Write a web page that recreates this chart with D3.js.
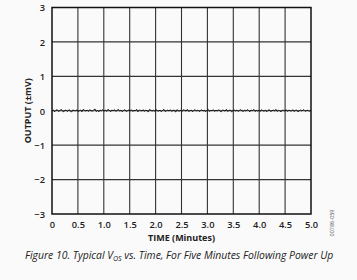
<!DOCTYPE html>
<html><head><meta charset="utf-8">
<script src="https://cdn.jsdelivr.net/npm/d3@7"></script>
<style>
html,body{margin:0;padding:0;background:#fafafa;}
svg{display:block;}
</style></head>
<body>
<svg id="c" width="357" height="280"></svg>
<script>
const xTicks = [0,0.5,1.0,1.5,2.0,2.5,3.0,3.5,4.0,4.5,5.0];
const yTicks = [-3,-2,-1,0,1,2,3];
const xLabel = "TIME (Minutes)";
const yLabel = "OUTPUT (±mV)";
const figId = "00786-059";
// Output trace (mV), read as an evenly sampled trace over 0–5 minutes
const outputMv = [
 -0.01,0.02,-0.03,0.01,0.03,-0.02,0.00,0.04,-0.01,-0.03,0.02,0.01,-0.02,0.03,0.00,-0.04,0.02,0.01,-0.01,0.03,
 -0.02,0.00,0.02,-0.03,0.04,0.01,-0.01,0.02,-0.02,0.03,0.00,-0.01,0.02,0.05,-0.02,0.01,-0.03,0.02,0.00,0.03,
 -0.01,0.02,-0.02,0.04,0.01,-0.03,0.02,0.00,0.03,-0.02,0.01,0.04,-0.01,0.02,-0.03,0.01,0.03,-0.02,0.00,0.02,
 -0.01,0.03,-0.02,0.01,0.00,0.04,-0.03,0.02,0.01,-0.01,0.03,-0.02,0.02,0.00,-0.03,0.04,0.01,-0.01,0.02,-0.02,
 0.03,0.00,-0.01,0.02,-0.03,0.01,0.04,-0.02,0.00,0.02,-0.01,0.03,-0.02,0.01,0.02,-0.04,0.03,0.00,-0.01,0.02,
 -0.02,0.03,0.01,-0.01,0.04,-0.02,0.00,0.02,-0.03,0.01,0.03,-0.01,0.02,-0.02,0.00,0.03,-0.01,0.02,-0.03,0.01,
 0.04,-0.02,0.01,0.00,0.03,-0.02,0.02,-0.01,0.03,0.00,-0.03,0.02,0.01,-0.01,0.04,-0.02,0.01,0.02,-0.03,0.00,
 0.03,-0.01,0.02,-0.02,0.01,0.03,0.00,-0.02,0.02,-0.01,0.03,0.01,-0.03,0.02,0.00,0.04,-0.02,0.01,-0.01,0.02,
 -0.02,0.03,0.00,-0.01,0.02,-0.03,0.01,0.03,-0.02,0.00,0.02,-0.01,0.04,-0.02,0.01,0.00,-0.03,0.02,0.01,-0.01,
 0.03,-0.02,0.02,0.00,-0.01,0.03,-0.02,0.01,0.02,-0.03,0.00,0.02,-0.01,0.03,0.01,-0.02,0.02,0.00,-0.01,0.01
];

const svg = d3.select("#c");
const L=52, R=311, T=7.5, B=214;
const x = d3.scaleLinear().domain([0,5]).range([L,R]);
const y = d3.scaleLinear().domain([-3,3]).range([B,T]);

const g = svg.append("g");
// grid
g.selectAll("line.vx").data(xTicks.slice(1,-1)).enter().append("line")
 .attr("x1",d=>x(d)).attr("x2",d=>x(d)).attr("y1",T).attr("y2",B)
 .attr("stroke","#333").attr("stroke-width",1.1);
g.selectAll("line.hy").data(yTicks.slice(1,-1)).enter().append("line")
 .attr("y1",d=>y(d)).attr("y2",d=>y(d)).attr("x1",L).attr("x2",R)
 .attr("stroke","#333").attr("stroke-width",1.1);

// trace
const n = outputMv.length;
const line = d3.line().x((d,i)=>x(i*5/(n-1))).y(d=>y(d));
g.append("path").datum(outputMv).attr("d",line).attr("fill","none")
 .attr("stroke","#111").attr("stroke-width",1);

// frame
g.append("rect").attr("x",L).attr("y",T).attr("width",R-L).attr("height",B-T)
 .attr("fill","none").attr("stroke","#111").attr("stroke-width",1.5);

// axes
const fmtX = d=>d.toFixed(d===0?0:1);
const xAxis = d3.axisBottom(x).tickValues(xTicks).tickFormat(fmtX).tickSize(0).tickPadding(0);
const ax = svg.append("g").attr("transform",`translate(0,${B})`).call(xAxis);
ax.select(".domain").remove();
ax.selectAll("text").attr("y",14).attr("dy",0)
 .attr("font-family","'Open Sans'").attr("font-weight",600).attr("font-size",9.3).attr("fill","#222");

const yAxis = d3.axisLeft(y).tickValues(yTicks).tickFormat(d=>d<0?"\u2212"+Math.abs(d):String(d)).tickSize(0).tickPadding(0);
const ay = svg.append("g").attr("transform",`translate(${L},0)`).call(yAxis);
ay.select(".domain").remove();
ay.selectAll("text").attr("x",-7).attr("dy","0.35em")
 .attr("font-family","'Open Sans'").attr("font-weight",600).attr("font-size",9.3).attr("fill","#222");

// titles
svg.append("text").attr("x",(L+R)/2).attr("y",241).attr("text-anchor","middle")
 .attr("font-family","'Open Sans'").attr("font-weight",700).attr("font-size",9).attr("fill","#222").text(xLabel);
svg.append("text").attr("transform",`translate(31,${(T+B)/2}) rotate(-90)`).attr("text-anchor","middle")
 .attr("font-family","'Open Sans'").attr("font-weight",700).attr("font-size",9).attr("fill","#222").text(yLabel);

// fig id
svg.append("text").attr("transform",`translate(334,223) rotate(-90)`).attr("text-anchor","middle")
 .attr("font-family","'Open Sans'").attr("font-size",5.5).attr("fill","#555").text(figId);

// caption
const cap = svg.append("text").attr("x",25).attr("y",259)
 .attr("font-family","'Open Sans'").attr("font-style","italic").attr("font-size",10.4).attr("fill","#222");
cap.append("tspan").text("Figure 10. Typical V");
cap.append("tspan").attr("font-size",7).attr("dy",1.5).text("OS");
cap.append("tspan").attr("dy",-1.5).text(" vs. Time, For Five Minutes Following Power Up");
</script>
</body></html>
